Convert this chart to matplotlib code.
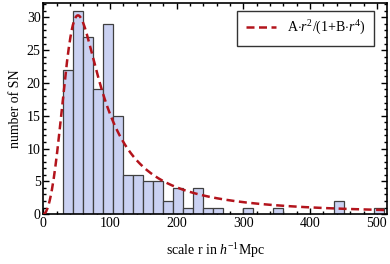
import numpy as np
import matplotlib
matplotlib.use("Agg")
import matplotlib.pyplot as plt
from matplotlib.ticker import MultipleLocator

plt.rcParams['font.family'] = ['Liberation Serif', 'DejaVu Serif']
plt.rcParams['mathtext.fontset'] = 'custom'
plt.rcParams['mathtext.rm'] = 'Liberation Serif'
plt.rcParams['mathtext.it'] = 'Liberation Serif:italic'

# histogram data (bin left edges, width, counts)
bin_left = [30, 45, 60, 75, 90, 105, 120, 135, 150, 165, 180, 195, 210, 225,
            240, 255, 300, 345, 435, 495]
bin_width = 15
counts = [22, 31, 27, 19, 29, 15, 6, 6, 5, 5, 2, 4, 1, 4,
          1, 1, 1, 1, 2, 1]

# fit parameters for A r^2 / (1 + B r^4)
r_peak = 52.0
peak_val = 30.3
B = r_peak ** -4
A = 2 * peak_val / r_peak ** 2

fig = plt.figure(figsize=(3.9, 2.64), dpi=100)
ax = fig.add_axes([0.111, 0.189, 0.881, 0.8])

ax.bar(bin_left, counts, width=bin_width, align='edge',
       color='#cad1f2', edgecolor='#404040', linewidth=0.9, zorder=2)

r = np.linspace(0, 520, 600)
f = A * r**2 / (1 + B * r**4)
ax.plot(r, f, color='#b3141c', lw=1.8, dashes=(3.2, 1.8), zorder=3,
        label=r'A$\cdot$$r^2$/(1+B$\cdot$$r^4$)')

ax.set_xlim(0, 515)
ax.set_ylim(0, 32.2)
ax.xaxis.set_major_locator(MultipleLocator(100))
ax.xaxis.set_minor_locator(MultipleLocator(20))
ax.yaxis.set_major_locator(MultipleLocator(5))
ax.yaxis.set_minor_locator(MultipleLocator(1))
ax.tick_params(which='both', direction='in', top=True, right=True,
               labelsize=10, pad=2, width=1)
ax.tick_params(which='major', length=4)
ax.tick_params(which='minor', length=2)
for s in ax.spines.values():
    s.set_linewidth(1.2)

ax.set_xlabel(r'scale r in $h^{-1}$Mpc', fontsize=10, labelpad=8)
ax.set_ylabel('number of SN', fontsize=10, labelpad=3)

leg = ax.legend(loc='upper right', fontsize=10, frameon=True, fancybox=False,
                edgecolor='black', borderpad=0.6, handlelength=2.2,
                bbox_to_anchor=(0.983, 0.995))
leg.get_frame().set_linewidth(1.0)

fig.savefig('out.png', dpi=100)
